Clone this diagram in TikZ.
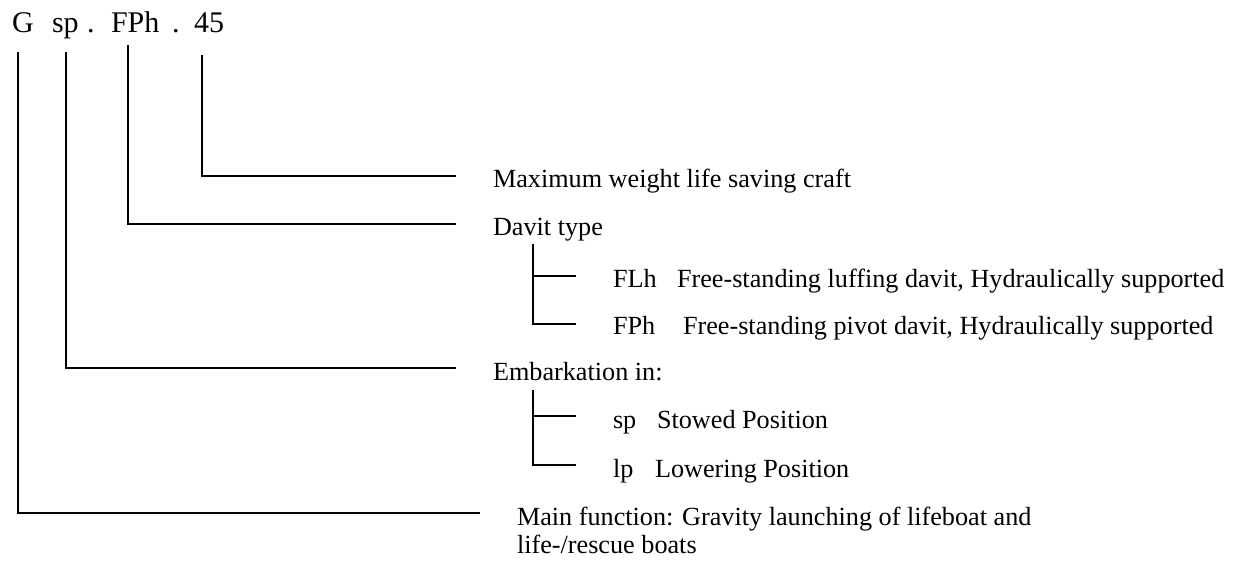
\documentclass[tikz,border=0pt]{standalone}
\usepackage{fontspec}
\setmainfont{Liberation Serif}
\usetikzlibrary{calc,positioning}

\begin{document}
\begin{tikzpicture}[x=0.5pt,y=-0.5pt,every node/.style={inner sep=0pt,outer sep=0pt}]
	
	\tikzstyle{titletxt}=[anchor=base west,font=\fontsize{15}{18}\selectfont]
	\tikzstyle{entry}=[anchor=base west,font=\fontsize{13.1}{15}\selectfont]
	\tikzstyle{lead}=[line width=0.9pt]
	
	\useasboundingbox (0,0) rectangle (1245,563);
	
	% designation
	\node[titletxt] (tG) at (12,32) {G};
	\node[titletxt] (tsp) at (52,32) {sp};
	\node[titletxt] (dot1) at (87,32) {.};
	\node[titletxt] (tFPh) at (111,32) {FPh};
	\node[titletxt] (dot2) at (172,32) {.};
	\node[titletxt] (t45) at (194,32) {45};
	
	% explanations
	\node[entry] (max) at (493,187) {Maximum weight life saving craft};
	\node[entry] (davit) at (493,235) {Davit type};
	\node[entry] (FLh) at (613,287) {FLh};
	\node[entry] (FLhtxt) at (677,287) {Free-standing luffing davit, Hydraulically supported};
	\node[entry] (FPh) at (613,334) {FPh};
	\node[entry] (FPhtxt) at (683,334) {Free-standing pivot davit, Hydraulically supported};
	\node[entry] (emb) at (493,380) {Embarkation in:};
	\node[entry] (sp) at (613,428) {sp};
	\node[entry] (sptxt) at (657,428) {Stowed Position};
	\node[entry] (lp) at (613,477) {lp};
	\node[entry] (lptxt) at (655,477) {Lowering Position};
	\node[entry] (main) at (517,525) {Main function: Gravity launching of lifeboat and};
	\node[entry] (main2) at (517,553) {life-/rescue boats};
	
	\coordinate (gTop) at (18,52);
	\coordinate (spTop) at (66,52);
	\coordinate (fTop) at (128,45);
	\coordinate (nTop) at (202,55);
	\coordinate (davitTop) at ($(davit.base west)+(40,9)$);
	\coordinate (embTop) at ($(emb.base west)+(40,10)$);
	
	\draw [lead] (nTop) |- ([shift={(-37,-11)}]max.base west);
	\draw [lead] (fTop) |- ([shift={(-37,-11)}]davit.base west);
	\draw [lead] (spTop) |- ([shift={(-37,-12)}]emb.base west);
	\draw [lead] (gTop) |- ([shift={(-37,-12)}]main.base west);
	
	\draw [lead] (davitTop) |- ([shift={(-37,-10)}]FPh.base west);
	\draw [lead] ([shift={(-37,-11)}]FLh.base west) -- ++(-43,0);
	\draw [lead] (embTop) |- ([shift={(-37,-12)}]lp.base west);
	\draw [lead] ([shift={(-37,-12)}]sp.base west) -- ++(-43,0);
	
\end{tikzpicture}
\end{document}
